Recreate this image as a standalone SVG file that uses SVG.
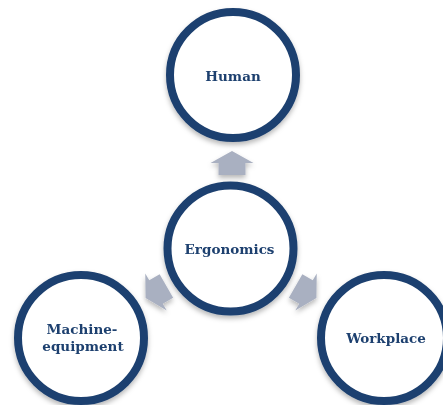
<svg xmlns="http://www.w3.org/2000/svg" width="443" height="405" viewBox="0 0 443 405">
  <defs>
    <filter id="sh" x="-20%" y="-20%" width="140%" height="150%">
      <feDropShadow dx="0" dy="3" stdDeviation="2.5" flood-color="#000" flood-opacity="0.28"/>
    </filter>
    <path id="arr" d="M0,-12 L21.5,0 L13.5,0 L13.5,12 L-13.5,12 L-13.5,0 L-21.5,0 Z"/>
  </defs>
  <style>
    .node circle { fill: #ffffff; stroke: #1d406f; stroke-width: 8; }
    .node text { font-family: "DejaVu Serif", "Liberation Serif", serif; font-weight: bold; font-size: 13.5px; fill: #1d406f; text-anchor: middle; }
    .arrow { fill: #a9b0c1; }
  </style>
  <rect width="443" height="405" fill="#ffffff"/>
  <g id="connectors" filter="url(#sh)">
    <use href="#arr" class="arrow" transform="translate(232,163)"/>
    <use href="#arr" class="arrow" transform="translate(306,292) rotate(120)"/>
    <use href="#arr" class="arrow" transform="translate(156,292) rotate(-120)"/>
  </g>
  <g id="human" class="node">
    <circle cx="233" cy="75" r="63" filter="url(#sh)"/>
    <text x="233" y="80.5">Human</text>
  </g>
  <g id="ergonomics" class="node">
    <circle cx="230.5" cy="248.5" r="63" filter="url(#sh)"/>
    <text x="229.5" y="253.5">Ergonomics</text>
  </g>
  <g id="machine" class="node">
    <circle cx="81" cy="338" r="63" filter="url(#sh)"/>
    <text x="82" y="334">Machine-</text>
    <text x="83" y="351">equipment</text>
  </g>
  <g id="workplace" class="node">
    <circle cx="384" cy="338" r="63" filter="url(#sh)"/>
    <text x="386" y="343">Workplace</text>
  </g>
</svg>
